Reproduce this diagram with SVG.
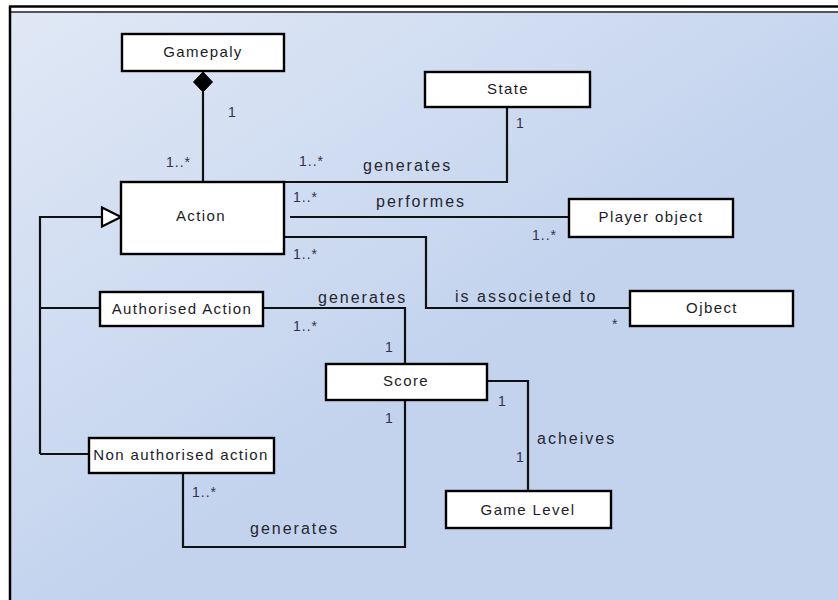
<svg xmlns="http://www.w3.org/2000/svg" width="838" height="600" viewBox="0 0 838 600">
  <defs>
    <linearGradient id="bg" x1="0" y1="0" x2="0.55" y2="0.6">
      <stop offset="0" stop-color="#e0e8f5"/>
      <stop offset="1" stop-color="#c3d3ee"/>
    </linearGradient>
  </defs>
  <style>
    .box { fill: #ffffff; stroke: #000000; stroke-width: 2.4; }
    .conn { fill: none; stroke: #111111; stroke-width: 2.2; }
    .node { font-family: "Liberation Sans", Arial, sans-serif; font-size: 15px; letter-spacing: 1.4px; fill: #1c1c28; text-anchor: middle; }
    .lbl { font-family: "Liberation Sans", Arial, sans-serif; font-size: 16px; letter-spacing: 2px; fill: #26262f; }
    .mult { font-family: "Liberation Sans", Arial, sans-serif; font-size: 14px; letter-spacing: 1px; fill: #35304a; }
  </style>

  <!-- page background and frame -->
  <rect x="0" y="0" width="838" height="600" fill="#ffffff"/>
  <rect x="11" y="13" width="827" height="587" fill="url(#bg)"/>
  <line x1="9" y1="6.5" x2="838" y2="6.5" stroke="#000" stroke-width="2.5"/>
  <line x1="11" y1="12" x2="838" y2="12" stroke="#555" stroke-width="2"/>
  <line x1="10" y1="6" x2="10" y2="600" stroke="#000" stroke-width="2.5"/>

  <!-- connectors -->
  <g id="connectors">
    <!-- composition Gamepaly - Action -->
    <line class="conn" x1="203" y1="92" x2="203" y2="182"/>
    <polygon points="203,72 212.5,82 203,92 193.5,82" fill="#000" stroke="#000" stroke-width="1"/>
    <!-- generalization -->
    <polyline class="conn" points="40,454 40,217 102,217"/>
    <line class="conn" x1="40" y1="308" x2="100" y2="308"/>
    <line class="conn" x1="40" y1="454" x2="89" y2="454"/>
    <polygon points="102,207.5 121,217 102,226.5" fill="#ffffff" stroke="#000" stroke-width="2.2"/>
    <!-- Action generates State -->
    <polyline class="conn" points="284,182 507,182 507,107"/>
    <!-- Action performes Player object -->
    <line class="conn" x1="290" y1="217" x2="569" y2="217"/>
    <!-- Action is associeted to Ojbect -->
    <polyline class="conn" points="284,237 426,237 426,308 630,308"/>
    <!-- Authorised Action generates Score -->
    <polyline class="conn" points="263,308 405,308 405,364"/>
    <!-- Non authorised action generates Score -->
    <polyline class="conn" points="405,400 405,547 183,547 183,473"/>
    <!-- Score acheives Game Level -->
    <polyline class="conn" points="487,381 528,381 528,491"/>
  </g>

  <!-- nodes -->
  <g id="gamepaly">
    <rect class="box" x="122" y="34" width="162" height="37"/>
    <text class="node" x="203" y="57">Gamepaly</text>
  </g>
  <g id="action">
    <rect class="box" x="121" y="182" width="163" height="72"/>
    <text class="node" x="201" y="221">Action</text>
  </g>
  <g id="state">
    <rect class="box" x="425" y="72" width="165" height="35"/>
    <text class="node" x="508" y="94">State</text>
  </g>
  <g id="player-object">
    <rect class="box" x="569" y="199" width="164" height="38"/>
    <text class="node" x="651" y="222">Player object</text>
  </g>
  <g id="ojbect">
    <rect class="box" x="630" y="291" width="163" height="35"/>
    <text class="node" x="712" y="313">Ojbect</text>
  </g>
  <g id="authorised-action">
    <rect class="box" x="100" y="292" width="163" height="34"/>
    <text class="node" x="182" y="314">Authorised Action</text>
  </g>
  <g id="score">
    <rect class="box" x="326" y="364" width="161" height="36"/>
    <text class="node" x="406" y="386">Score</text>
  </g>
  <g id="non-authorised-action">
    <rect class="box" x="89" y="438" width="185" height="35"/>
    <text class="node" x="181" y="460">Non authorised action</text>
  </g>
  <g id="game-level">
    <rect class="box" x="446" y="491" width="165" height="37"/>
    <text class="node" x="528" y="515">Game Level</text>
  </g>

  <!-- association names and multiplicities -->
  <g id="labels">
    <text class="mult" x="228" y="117">1</text>
    <text class="mult" x="166" y="167">1..*</text>
    <text class="mult" x="299" y="166">1..*</text>
    <text class="lbl" x="363" y="171">generates</text>
    <text class="mult" x="516" y="128">1</text>
    <text class="mult" x="293" y="202">1..*</text>
    <text class="lbl" x="376" y="207">performes</text>
    <text class="mult" x="532" y="240">1..*</text>
    <text class="mult" x="293" y="259">1..*</text>
    <text class="lbl" x="455" y="302">is associeted to</text>
    <text class="mult" x="612" y="329">*</text>
    <text class="lbl" x="318" y="303">generates</text>
    <text class="mult" x="293" y="331">1..*</text>
    <text class="mult" x="385" y="352">1</text>
    <text class="mult" x="385" y="423">1</text>
    <text class="mult" x="192" y="497">1..*</text>
    <text class="lbl" x="250" y="534">generates</text>
    <text class="mult" x="498" y="406">1</text>
    <text class="lbl" x="537" y="444">acheives</text>
    <text class="mult" x="516" y="462">1</text>
  </g>
</svg>
